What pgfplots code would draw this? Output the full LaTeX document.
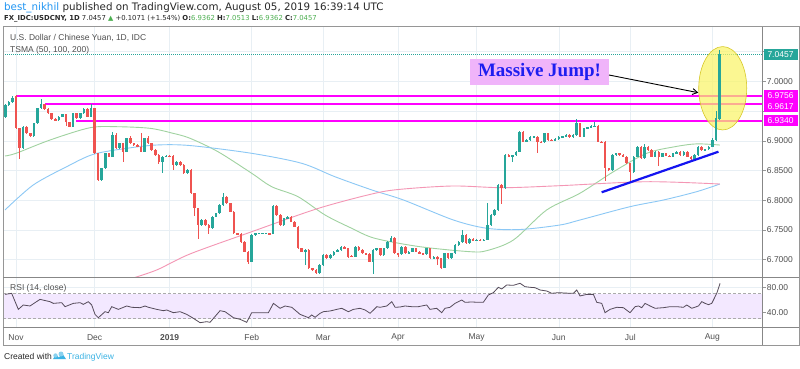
\documentclass[border=0pt]{standalone}
\usepackage{pgfplots}
\pgfplotsset{compat=1.18}
\usepackage{pgfplotstable}
\usetikzlibrary{arrows.meta}
\usepackage{fontspec}
\setmainfont{Liberation Sans}
\newfontfamily\serifbold{Liberation Serif}
\newfontfamily\dejavu{DejaVu Sans}
\definecolor{cup}{RGB}{38,166,154}
\definecolor{cdown}{RGB}{239,83,80}
\definecolor{gridc}{RGB}{232,239,244}
\definecolor{framec}{RGB}{150,150,150}
\definecolor{txt}{RGB}{80,80,80}
\definecolor{txtd}{RGB}{40,40,40}
\definecolor{ma50}{RGB}{160,210,160}
\definecolor{ma100}{RGB}{140,200,245}
\definecolor{ma200}{RGB}{244,150,180}
\definecolor{mag}{RGB}{255,0,255}
\definecolor{lav}{RGB}{243,232,255}
\definecolor{rsiline}{RGB}{85,75,90}
\definecolor{tvblue}{RGB}{33,150,243}
\definecolor{tvlogo}{RGB}{59,179,228}
\definecolor{jumpbox}{RGB}{240,180,250}
\definecolor{jumptext}{RGB}{30,30,240}
\definecolor{valgreen}{RGB}{76,175,80}
\definecolor{trend}{RGB}{20,20,240}
\definecolor{ellfill}{RGB}{250,245,100}
\definecolor{elldraw}{RGB}{215,200,40}

\pgfplotstableread{
i o c h l
-3 6.9400 6.9604 0 9
-2 6.9604 6.9655 0 9
-1 6.9655 6.9717 6.9750 9
0 6.9756 6.9212 0 9
1 6.9212 6.8875 0 6.8712
2 6.8875 6.9239 0 9
3 6.9239 6.9128 0 9
4 6.9128 6.9080 0 9
5 6.9080 6.9296 0 9
6 6.9296 6.9549 0 9
7 6.9549 6.9616 6.9689 9
8 6.9616 6.9537 0 9
9 6.9537 6.9465 0 9
10 6.9465 6.9369 0 9
11 6.9369 6.9352 0 9
12 6.9352 6.9407 0 9
13 6.9407 6.9448 0 9
14 6.9448 6.9313 0 6.9270
15 6.9313 6.9239 0 9
16 6.9239 6.9465 0 9
17 6.9465 6.9380 0 9
18 6.9380 6.9465 0 9
19 6.9465 6.9537 0 9
20 6.9537 6.9407 0 9
21 6.9407 6.9549 6.9604 9
22 6.9549 6.8791 0 9
23 6.8791 6.8342 0 6.8330
24 6.8342 6.8539 0 9
25 6.8539 6.8791 0 9
26 6.8791 6.8734 0 9
27 6.8734 6.9100 6.9130 9
28 6.9100 6.8875 6.9128 9
29 6.8875 6.8960 0 9
30 6.8960 6.8818 0 6.8650
31 6.8818 6.9044 0 9
32 6.9044 6.8960 6.9070 9
33 6.8960 6.8931 0 9
34 6.8931 6.8902 0 9
35 6.8902 6.8818 6.9128 9
36 6.8818 6.9044 0 9
37 6.9044 6.8960 6.9070 9
38 6.8960 6.8847 0 9
39 6.8847 6.8763 0 9
40 6.8763 6.8650 0 6.8620
41 6.8650 6.8734 0 6.8480
42 6.8734 6.8750 0 9
43 6.8750 6.8745 0 9
44 6.8745 6.8594 0 6.8520
45 6.8594 6.8650 0 9
46 6.8650 6.8594 0 9
47 6.8594 6.8455 0 9
48 6.8455 6.8510 0 9
49 6.8510 6.8118 0 9
50 6.8118 6.7865 0 6.7750
51 6.7865 6.7584 0 6.7360
52 6.7584 6.7668 0 9
53 6.7668 6.7584 0 9
54 6.7584 6.7529 0 6.7450
55 6.7529 6.7724 0 9
56 6.7724 6.7781 0 9
57 6.7781 6.7921 0 9
58 6.7921 6.8061 6.8105 9
59 6.8061 6.7950 0 9
60 6.7950 6.7808 0 9
61 6.7808 6.7444 0 9
62 6.7444 6.7440 0 9
63 6.7440 6.7303 0 9
64 6.7303 6.7135 0 9
65 6.7135 6.6966 0 6.6940
66 6.6966 6.7416 0 9
67 6.7416 6.7444 0 9
68 6.7444 6.7444 0 9
69 6.7444 6.7444 0 9
70 6.7444 6.7444 0 9
71 6.7444 6.7440 0 9
72 6.7440 6.7910 0 9
73 6.7910 6.7753 0 9
74 6.7753 6.7584 0 9
75 6.7584 6.7697 0 9
76 6.7697 6.7724 0 9
77 6.7724 6.7640 0 9
78 6.7640 6.7556 0 9
79 6.7556 6.7192 0 9
80 6.7192 6.7135 0 9
81 6.7135 6.7163 0 6.6930
82 6.7163 6.6855 0 9
83 6.6855 6.6827 0 9
84 6.6827 6.6771 0 9
85 6.6771 6.6911 0 9
86 6.6911 6.7079 0 9
87 6.7079 6.7024 0 9
88 6.7024 6.7079 0 9
89 6.7079 6.7135 0 9
90 6.7135 6.7163 0 9
91 6.7163 6.7219 0 9
92 6.7219 6.7192 0 9
93 6.7192 6.7050 0 9
94 6.7060 6.7050 0 9
95 6.7050 6.7219 0 9
96 6.7219 6.7163 0 9
97 6.7163 6.7108 0 9
98 6.7108 6.7100 0 9
99 6.7100 6.6966 0 9
100 6.6966 6.7163 0 6.6775
101 6.7163 6.7192 0 9
102 6.7192 6.7079 0 9
103 6.7079 6.7192 0 9
104 6.7192 6.7303 0 9
105 6.7303 6.7370 6.7395 9
106 6.7370 6.7108 0 9
107 6.7108 6.7100 0 6.7060
108 6.7100 6.7219 0 9
109 6.7219 6.7108 0 9
110 6.7108 6.7135 0 9
111 6.7135 6.7192 0 9
112 6.7192 6.7135 0 9
113 6.7135 6.7108 0 9
114 6.7108 6.7100 0 9
115 6.7100 6.7192 0 9
116 6.7192 6.7024 0 9
117 6.7024 6.7050 0 9
118 6.7050 6.7024 0 6.6920
119 6.7024 6.6865 0 9
120 6.6865 6.7108 0 9
121 6.7108 6.7024 0 9
122 6.7024 6.7108 0 9
123 6.7108 6.7247 0 9
124 6.7247 6.7300 0 9
125 6.7300 6.7416 6.7488 9
126 6.7416 6.7276 0 9
127 6.7276 6.7348 0 9
128 6.7348 6.7332 0 9
129 6.7332 6.7332 0 9
130 6.7332 6.7330 0 9
131 6.7330 6.7340 0 9
132 6.7340 6.7584 6.7950 9
133 6.7584 6.7753 0 9
134 6.7753 6.7837 0 9
135 6.7837 6.8258 0 9
136 6.8258 6.8202 0 6.7950
137 6.8202 6.8763 0 9
138 6.8763 6.8734 0 9
139 6.8734 6.8760 0 6.8650
140 6.8760 6.8818 0 9
141 6.8818 6.9155 0 9
142 6.9155 6.8987 0 9
143 6.8987 6.9015 0 9
144 6.9015 6.9071 0 9
145 6.9071 6.9075 0 9
146 6.9075 6.8987 0 6.8818
147 6.8987 6.8980 0 9
148 6.8980 6.9128 0 9
149 6.9128 6.9015 0 9
150 6.9015 6.9010 0 9
151 6.9010 6.9030 0 9
152 6.9030 6.9071 0 9
153 6.9071 6.9075 0 9
154 6.9075 6.9100 0 9
155 6.9100 6.9060 0 9
156 6.9060 6.9100 0 9
157 6.9100 6.9296 6.9350 9
158 6.9296 6.9071 0 9
159 6.9071 6.9212 0 9
160 6.9212 6.9230 0 9
161 6.9230 6.9250 0 9
162 6.9250 6.9255 6.9300 9
163 6.9255 6.8987 0 9
164 6.8987 6.8980 0 9
165 6.8980 6.8539 0 6.8342
166 6.8539 6.8510 0 9
167 6.8510 6.8763 0 9
168 6.8763 6.8791 0 9
169 6.8791 6.8763 0 9
170 6.8763 6.8734 0 9
171 6.8734 6.8623 0 9
172 6.8623 6.8480 0 6.8342
173 6.8480 6.8734 0 9
174 6.8734 6.8902 0 9
175 6.8902 6.8707 0 9
176 6.8707 6.8902 6.8930 9
177 6.8902 6.8847 0 9
178 6.8847 6.8734 0 9
179 6.8734 6.8818 0 9
180 6.8818 6.8734 0 6.8590
181 6.8734 6.8791 0 9
182 6.8791 6.8750 0 9
183 6.8750 6.8734 0 9
184 6.8734 6.8791 0 9
185 6.8791 6.8813 0 9
186 6.8813 6.8763 0 9
187 6.8763 6.8818 0 9
188 6.8818 6.8734 0 9
189 6.8734 6.8690 0 9
190 6.8690 6.8763 0 9
191 6.8763 6.8902 0 9
192 6.8902 6.8847 0 9
193 6.8847 6.8860 0 9
194 6.8860 6.8902 0 9
195 6.8902 6.9015 6.9040 9
196 6.9015 6.9386 6.9490 9
197 6.9362 7.0457 7.0513 9
}\candles

\pgfplotstableread{
i p
-3.08 6.8746
0 6.8791
9.52 6.9015
20.72 6.9222
28.28 6.9239
37.52 6.9212
43.96 6.9128
48.73 6.9044
56.57 6.8818
66.0 6.8455
71.6 6.8229
78.97 6.8061
86.53 6.7753
94.0 6.7529
100.5 6.7360
113.1 6.7219
127.1 6.7135
131.8 6.7152
139.3 6.7332
148.6 6.7837
157.9 6.8118
167.3 6.8481
176.6 6.8791
184.5 6.8902
190.6 6.8950
197.1 6.8930
}\smaA

\pgfplotstableread{
i p
-3.08 6.7837
4.84 6.8258
14.2 6.8566
21.65 6.8774
31.0 6.8875
39.4 6.8931
48.7 6.8922
66.0 6.8791
80.0 6.8623
89.3 6.8397
99.7 6.8173
108.5 6.8005
122.5 6.7668
131.8 6.7529
141.1 6.7508
152.3 6.7584
157.9 6.7668
171.9 6.7892
181.3 6.8005
190.6 6.8145
197.1 6.8274
}\smaB

\pgfplotstableread{
i p
31.9 6.6675
39.4 6.6827
48.7 6.7096
66.0 6.7471
84.7 6.7865
100.5 6.8118
108.5 6.8190
122.5 6.8241
136.5 6.8212
152.3 6.8246
176.6 6.8313
197.1 6.8274
}\smaC

\pgfplotstableread{
i r
-3.08 68.7
-1.21 70.3
0.65 44.7
2.05 51.7
3.92 50.1
6.72 60.7
9.52 57.0
10.46 54.3
12.79 55.4
13.73 49.0
16.06 54.3
17.93 55.4
18.86 52.7
20.26 57.0
21.2 51.7
22.13 36.7
23.06 31.4
24.93 41.0
25.86 39.4
26.8 49.0
28.66 44.7
31.0 50.1
32.4 48.0
34.73 47.4
36.13 50.1
37.07 48.0
39.4 44.7
41.27 42.6
42.2 43.7
44.07 39.4
45.94 41.0
47.8 36.7
49.67 30.4
51.54 23.4
53.4 25.0
54.34 24.0
57.14 42.6
58.54 41.0
60.88 31.4
62.75 28.8
64.61 24.0
66.0 39.4
70.68 39.4
72.08 54.3
73.95 46.4
75.35 50.1
77.22 48.0
79.55 36.7
81.89 31.4
82.82 35.7
83.75 32.0
85.15 38.4
86.09 41.0
87.96 42.1
89.82 44.7
91.22 46.4
93.09 41.0
94.49 44.7
96.36 46.4
97.76 43.7
99.16 38.4
101.03 49.0
101.96 48.0
103.83 50.1
105.23 57.0
106.16 48.0
107.56 48.5
108.93 50.1
110.8 49.0
112.66 49.0
115.0 51.7
115.93 44.7
117.8 46.4
119.2 39.4
120.13 46.4
121.54 48.0
122.94 54.3
124.8 59.7
125.74 56.0
127.6 56.5
129.47 56.0
130.87 56.0
132.27 67.7
133.67 71.4
135.07 80.0
136.0 77.3
137.41 83.7
139.28 83.2
141.14 86.4
142.54 81.0
143.94 80.0
145.35 79.4
146.75 75.7
148.61 74.1
150.01 70.4
151.88 71.4
155.15 70.4
156.08 70.4
157.02 75.7
157.95 66.1
159.82 68.7
161.69 68.7
162.62 56.0
164.02 54.3
164.95 39.4
166.35 44.7
168.22 48.0
170.09 47.4
171.95 39.4
173.36 49.0
174.29 50.1
175.22 47.4
176.16 54.3
177.56 50.1
178.96 46.4
181.29 47.4
183.16 49.0
185.03 49.0
186.9 48.0
187.83 51.7
189.23 46.4
191.1 50.1
192.03 57.0
192.97 54.3
193.9 52.2
194.83 54.3
196.23 70.4
197.17 86.4
}\rsi

\begin{document}
\begin{tikzpicture}[x=1bp,y=1bp]
\useasboundingbox (0,0) rectangle (800,368);
\fill[white] (0,0) rectangle (800,368);

% ---------- price pane ----------
\begin{axis}[
  at={(3bp,90.7bp)}, anchor=south west, scale only axis,
  width=759.7bp, height=250.6bp,
  xmin=-3.64, xmax=209.1, ymin=6.67037, ymax=7.09226,
  axis line style={draw=none},
  xtick={0,22,43,66,86,107,129,152,172,195}, xticklabels={},
  x tick style={draw=none},
  ytick={6.70,6.75,6.80,6.85,6.90,6.95,7.00,7.05},
  yticklabels={6.7000,6.7500,6.8000,6.8500,6.9000,,7.0000,},
  ytick pos=right, yticklabel pos=right,
  tick align=outside, major tick length=3bp,
  y tick style={framec, line width=0.6bp},
  yticklabel style={font=\fontsize{8.5bp}{10bp}\selectfont, text=txt, inner sep=1bp},
  grid=major, grid style={gridc, line width=0.6bp},
]
\addplot[ma50, line width=0.9bp, smooth, forget plot] table[x=i,y=p] {\smaA};
\addplot[ma100, line width=0.9bp, smooth, forget plot] table[x=i,y=p] {\smaB};
\addplot[ma200, line width=0.9bp, smooth, forget plot] table[x=i,y=p] {\smaC};
\addplot[cup, line width=0.8bp, dash pattern=on 1bp off 1bp, forget plot] coordinates {(-3.64,7.0457) (209.1,7.0457)};
\addplot[mag, line width=2bp, forget plot] coordinates {(0,6.9756) (209.1,6.9756)};
\addplot[mag, line width=2bp, forget plot] coordinates {(8.1,6.9617) (209.1,6.9617)};
\addplot[mag, line width=2bp, forget plot] coordinates {(16.8,6.9340) (209.1,6.9340)};
\fill[ellfill, fill opacity=0.7] (axis cs:197.9,6.9886) ellipse [x radius=24bp, y radius=41.7bp];
\draw[elldraw, line width=0.6bp] (axis cs:197.9,6.9886) ellipse [x radius=24bp, y radius=41.7bp];
% wicks
\addplot[draw=none, no marks, forget plot, error bars/.cd, y dir=both, y explicit, error mark=none,
  error bar style={draw=cup, line width=0.8bp, solid}]
  table[x=i,
    y expr={\thisrow{c}>=\thisrow{o} ? (max(max(\thisrow{o},\thisrow{c}),\thisrow{h})+min(min(\thisrow{o},\thisrow{c}),\thisrow{l}))/2 : nan},
    y error expr={(max(max(\thisrow{o},\thisrow{c}),\thisrow{h})-min(min(\thisrow{o},\thisrow{c}),\thisrow{l}))/2+0.0012}] {\candles};
\addplot[draw=none, no marks, forget plot, error bars/.cd, y dir=both, y explicit, error mark=none,
  error bar style={draw=cdown, line width=0.8bp, solid}]
  table[x=i,
    y expr={\thisrow{c}<\thisrow{o} ? (max(max(\thisrow{o},\thisrow{c}),\thisrow{h})+min(min(\thisrow{o},\thisrow{c}),\thisrow{l}))/2 : nan},
    y error expr={(max(max(\thisrow{o},\thisrow{c}),\thisrow{h})-min(min(\thisrow{o},\thisrow{c}),\thisrow{l}))/2+0.0012}] {\candles};
% bodies
\addplot[draw=none, no marks, forget plot, error bars/.cd, y dir=both, y explicit, error mark=none,
  error bar style={draw=cup, line width=2.5bp, solid}]
  table[x=i,
    y expr={\thisrow{c}>=\thisrow{o} ? (\thisrow{o}+\thisrow{c})/2 : nan},
    y error expr={max(abs(\thisrow{c}-\thisrow{o})/2,0.0005)}] {\candles};
\addplot[draw=none, no marks, forget plot, error bars/.cd, y dir=both, y explicit, error mark=none,
  error bar style={draw=cdown, line width=2.5bp, solid}]
  table[x=i,
    y expr={\thisrow{c}<\thisrow{o} ? (\thisrow{o}+\thisrow{c})/2 : nan},
    y error expr={max(abs(\thisrow{c}-\thisrow{o})/2,0.0005)}] {\candles};
% trend line
\addplot[trend, line width=2.2bp, forget plot] coordinates {(164,6.8135) (196.7,6.8818)};
\coordinate (L1) at (axis cs:209.1,7.0457);
\coordinate (L2) at (axis cs:209.1,6.9756);
\coordinate (L3) at (axis cs:209.1,6.9617);
\coordinate (L4) at (axis cs:209.1,6.9340);
\end{axis}

% ---------- RSI pane ----------
\begin{axis}[
  at={(3bp,40.7bp)}, anchor=south west, scale only axis,
  width=759.7bp, height=50bp,
  xmin=-3.64, xmax=209.1, ymin=16, ymax=96,
  axis line style={draw=none},
  xtick={0,22,43,66,86,107,129,152,172,195},
  xticklabels={Nov,Dec,\textbf{2019},Feb,Mar,Apr,May,Jun,Jul,Aug},
  x tick style={draw=none},
  xticklabel style={font=\fontsize{8.5bp}{10bp}\selectfont, text=txt, anchor=center, yshift=-7bp},
  ytick={40,80}, yticklabels={40.00,80.00},
  ytick pos=right, yticklabel pos=right,
  tick align=outside, major tick length=3bp,
  y tick style={framec, line width=0.6bp},
  yticklabel style={font=\fontsize{8.5bp}{10bp}\selectfont, text=txt, inner sep=1bp},
  grid=major, grid style={gridc, line width=0.6bp},
]
\fill[lav] (axis cs:-3.64,30) rectangle (axis cs:209.1,70);
\draw[framec!80, line width=0.6bp, dash pattern=on 3bp off 2bp] (axis cs:-3.64,70) -- (axis cs:209.1,70);
\draw[framec!80, line width=0.6bp, dash pattern=on 3bp off 2bp] (axis cs:-3.64,30) -- (axis cs:209.1,30);
\addplot[rsiline, line width=0.8bp, forget plot] table[x=i,y=r] {\rsi};
\end{axis}

% ---------- frame ----------
\draw[framec, line width=0.8bp] (3,23) rectangle (799,341.3);
\draw[framec!90!black, line width=0.8bp] (762.7,23) -- (762.7,341.3);
\draw[framec!90!black, line width=0.8bp] (3,90.7) -- (799,90.7);
\draw[framec!90!black, line width=0.8bp] (3,40.7) -- (799,40.7);

% ---------- right-side price labels ----------
\tikzset{plab/.style={anchor=west, text=white, font=\fontsize{8.5bp}{10bp}\selectfont, inner sep=0pt, minimum width=34bp, minimum height=11bp, xshift=0.6bp}}
\node[plab, fill=cup] at (L1) {7.0457};
\node[plab, fill=mag] at (L2) {6.9756};
\node[plab, fill=mag, yshift=-2.4bp] at (L3) {6.9617};
\node[plab, fill=mag] at (L4) {6.9340};

% ---------- annotation ----------
\node[fill=jumpbox, text=jumptext, font=\serifbold\bfseries\fontsize{19bp}{22bp}\selectfont, minimum width=139bp, minimum height=26bp, inner sep=0pt] at (539.5,296) {Massive Jump!};
\draw[-{Straight Barb[length=5bp,width=6bp]}, line width=0.9bp, black] (609,293) -- (698.3,275.3);

% ---------- texts ----------
\node[anchor=base west, inner sep=0pt, font=\dejavu\fontsize{10.3bp}{12bp}\selectfont, text=txtd] at (4,357.8)
  {\textcolor{tvblue}{best\_nikhil} published on TradingView.com, August 05, 2019 16:39:14 UTC};
\node[anchor=base west, inner sep=0pt, font=\dejavu\fontsize{6.85bp}{9bp}\selectfont, text=txtd] at (4,347.8)
  {\textbf{FX\_IDC:USDCNY, 1D} 7.0457 \textcolor{valgreen}{▲} +0.1071 (+1.54\%) \textbf{O:}\textcolor{valgreen}{6.9362} \textbf{H:}\textcolor{valgreen}{7.0513} \textbf{L:}\textcolor{valgreen}{6.9362} \textbf{C:}\textcolor{valgreen}{7.0457}};
\node[anchor=base west, inner sep=0pt, font=\fontsize{8.5bp}{10bp}\selectfont, text=txt] at (10,327.5) {U.S. Dollar / Chinese Yuan, 1D, IDC};
\node[anchor=base west, inner sep=0pt, font=\fontsize{8.5bp}{10bp}\selectfont, text=txt] at (10,315.5) {TSMA (50, 100, 200)};
\node[anchor=base west, inner sep=0pt, font=\fontsize{8.5bp}{10bp}\selectfont, text=txt] at (10,78) {RSI (14, close)};
\node[anchor=base west, inner sep=0pt, font=\fontsize{8.5bp}{10bp}\selectfont, text=txtd] at (4,8.5) {Created with};
\fill[tvlogo] (53,9) -- (56,13.5) -- (59,10.5) -- (62,15) -- (66,9) -- cycle;
\fill[tvlogo!60] (55.5,12.5) circle (2.2bp);
\fill[tvlogo!60] (61,14) circle (2.5bp);
\node[anchor=base west, inner sep=0pt, font=\fontsize{8.5bp}{10bp}\selectfont, text=tvlogo] at (67,8.5) {TradingView};
\end{tikzpicture}
\end{document}
